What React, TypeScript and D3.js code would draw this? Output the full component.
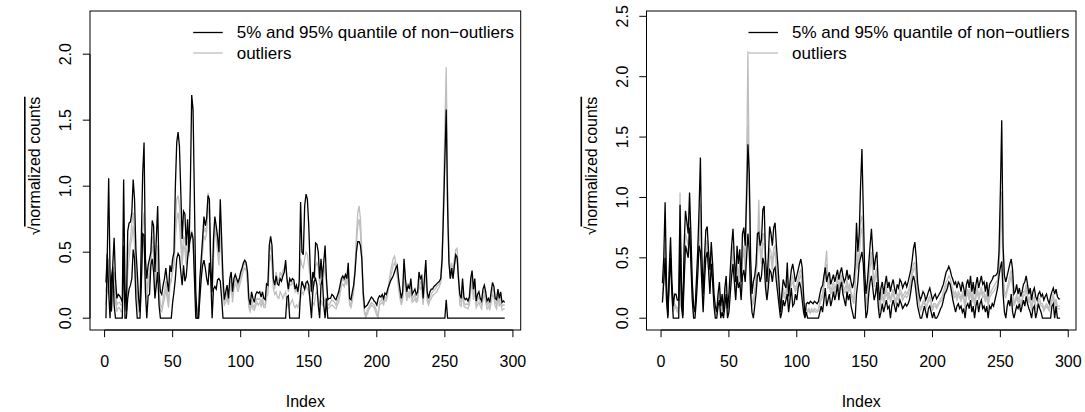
import React from 'react';
import * as d3 from 'd3';

// left panel (values at index 1..294)
const upperLeft = [
  0.27, 0.49, 1.06, 0.35, 0.05, 0.40, 0.61, 0.30, 0.15, 0.18,
  0.17, 0.15, 0.12, 1.05, 0.22, 0.05, 0.66, 0.72, 0.73, 0.80,
  1.05, 0.90, 0.52, 0.35, 0.15, 0.05, 0.60, 1.10, 1.33, 0.45,
  0.30, 0.40, 0.45, 0.50, 0.74, 0.70, 0.35, 0.60, 0.85, 0.35,
  0.20, 0.18, 0.25, 0.30, 0.38, 0.28, 0.20, 0.40, 0.35, 0.45,
  0.50, 1.00, 1.33, 1.41, 1.30, 0.95, 0.60, 0.81, 0.79, 0.55,
  0.75, 0.50, 1.00, 1.69, 1.58, 0.90, 0.20, 0.00, 0.00, 0.30,
  0.45, 0.60, 0.77, 0.70, 0.76, 0.93, 0.90, 0.40, 0.20, 0.60,
  0.77, 0.70, 0.62, 0.50, 0.90, 0.60, 0.30, 0.14, 0.20, 0.25,
  0.15, 0.30, 0.35, 0.20, 0.30, 0.33, 0.30, 0.27, 0.30, 0.35,
  0.38, 0.42, 0.44, 0.42, 0.35, 0.15, 0.10, 0.20, 0.15, 0.12,
  0.18, 0.20, 0.19, 0.20, 0.16, 0.20, 0.15, 0.14, 0.26, 0.25,
  0.55, 0.62, 0.55, 0.30, 0.25, 0.32, 0.26, 0.25, 0.30, 0.28,
  0.32, 0.35, 0.44, 0.30, 0.22, 0.30, 0.28, 0.30, 0.29, 0.22,
  0.25, 0.20, 0.28, 0.88, 0.50, 0.48, 0.85, 0.94, 0.90, 0.70,
  0.40, 0.20, 0.35, 0.30, 0.57, 0.56, 0.50, 0.30, 0.45, 0.30,
  0.42, 0.55, 0.30, 0.14, 0.15, 0.15, 0.18, 0.17, 0.15, 0.14,
  0.17, 0.20, 0.25, 0.30, 0.32, 0.30, 0.33, 0.30, 0.42, 0.15,
  0.14, 0.20, 0.25, 0.35, 0.50, 0.58, 0.58, 0.55, 0.45, 0.20,
  0.08, 0.09, 0.10, 0.12, 0.14, 0.16, 0.15, 0.13, 0.12, 0.10,
  0.15, 0.17, 0.16, 0.18, 0.15, 0.19, 0.18, 0.22, 0.25, 0.28,
  0.30, 0.32, 0.35, 0.38, 0.40, 0.30, 0.22, 0.15, 0.20, 0.45,
  0.30, 0.20, 0.25, 0.22, 0.30, 0.18, 0.20, 0.22, 0.18, 0.20,
  0.35, 0.30, 0.32, 0.15, 0.30, 0.44, 0.20, 0.15, 0.20, 0.22,
  0.22, 0.24, 0.25, 0.26, 0.27, 0.28, 0.30, 0.45, 0.80, 1.20,
  1.58, 0.85, 0.42, 0.30, 0.38, 0.30, 0.40, 0.48, 0.46, 0.30,
  0.18, 0.15, 0.30, 0.16, 0.14, 0.15, 0.13, 0.16, 0.30, 0.36,
  0.22, 0.30, 0.13, 0.18, 0.20, 0.15, 0.13, 0.22, 0.25, 0.20,
  0.13, 0.15, 0.12, 0.20, 0.27, 0.24, 0.15, 0.14, 0.22, 0.15,
  0.20, 0.12, 0.13, 0.12,
];

const lowerLeft = [
  0, 0.49, 0.20, 0, 0.30, 0.39, 0.10, 0, 0, 0,
  0, 0, 0, 0.55, 0, 0, 0.15, 0.22, 0.25, 0.30,
  0.52, 0.45, 0.15, 0, 0, 0, 0.25, 0.64, 0.63, 0.20,
  0, 0.17, 0.18, 0.40, 0.45, 0.35, 0.15, 0.25, 0.35, 0.10,
  0, 0, 0, 0, 0, 0, 0, 0, 0, 0.12,
  0.20, 0.30, 0.45, 0.49, 0.47, 0.35, 0.25, 0.40, 0.28, 0.32,
  0.45, 0.55, 0.60, 0.65, 0.60, 0.30, 0, 0, 0, 0.15,
  0.30, 0.40, 0.44, 0.38, 0.30, 0.25, 0.42, 0.30, 0, 0.22,
  0.24, 0.22, 0.29, 0.30, 0.28, 0.15, 0, 0, 0, 0,
  0, 0, 0, 0, 0, 0, 0, 0, 0, 0,
  0, 0, 0, 0, 0, 0, 0, 0, 0, 0,
  0, 0, 0, 0, 0, 0, 0, 0, 0, 0,
  0, 0, 0, 0, 0, 0, 0, 0, 0, 0,
  0, 0, 0, 0.16, 0.17, 0, 0, 0, 0, 0,
  0, 0, 0, 0.20, 0.28, 0.25, 0.22, 0.27, 0.28, 0.25,
  0.12, 0, 0.20, 0.28, 0.30, 0.25, 0.10, 0, 0.25, 0.30,
  0.10, 0, 0.15, 0, 0, 0, 0, 0, 0, 0,
  0, 0, 0, 0, 0, 0, 0, 0, 0, 0,
  0, 0, 0, 0, 0, 0, 0, 0, 0, 0,
  0, 0, 0, 0, 0, 0, 0, 0, 0, 0,
  0, 0, 0, 0, 0, 0, 0, 0, 0, 0,
  0, 0, 0, 0, 0, 0, 0, 0, 0, 0,
  0, 0, 0, 0, 0, 0, 0, 0, 0, 0,
  0, 0, 0, 0, 0, 0, 0, 0, 0, 0,
  0, 0, 0, 0, 0, 0, 0, 0, 0, 0,
  0.14, 0, 0, 0, 0, 0, 0, 0, 0, 0,
  0, 0, 0, 0, 0, 0, 0, 0, 0, 0,
  0, 0, 0, 0, 0, 0, 0, 0, 0, 0,
  0, 0, 0, 0, 0, 0, 0, 0, 0, 0,
  0, 0, 0, 0,
];

const outlierLeftA = [
  0.20, 0.30, 0.45, 0.20, 0.10, 0.25, 0.35, 0.20, 0.10, 0.12,
  0.12, 0.10, 0.10, 0.45, 0.20, 0.10, 0.45, 0.55, 0.60, 0.72,
  0.80, 0.65, 0.40, 0.20, 0.10, 0.05, 0.40, 0.70, 0.80, 0.35,
  0.20, 0.30, 0.35, 0.45, 0.62, 0.55, 0.25, 0.40, 0.55, 0.22,
  0.10, 0.08, 0.15, 0.20, 0.28, 0.20, 0.12, 0.30, 0.28, 0.40,
  0.45, 0.70, 0.90, 0.93, 0.85, 0.65, 0.45, 0.62, 0.60, 0.45,
  0.58, 0.52, 0.65, 0.66, 0.62, 0.40, 0.15, 0.05, 0.08, 0.25,
  0.40, 0.55, 0.70, 0.65, 0.70, 0.95, 0.85, 0.38, 0.15, 0.50,
  0.75, 0.65, 0.55, 0.45, 0.75, 0.50, 0.25, 0.12, 0.16, 0.20,
  0.12, 0.25, 0.30, 0.16, 0.25, 0.30, 0.27, 0.24, 0.27, 0.32,
  0.35, 0.40, 0.42, 0.40, 0.30, 0.10, 0.07, 0.14, 0.10, 0.08,
  0.12, 0.15, 0.14, 0.15, 0.12, 0.15, 0.10, 0.10, 0.20, 0.22,
  0.50, 0.55, 0.48, 0.28, 0.22, 0.35, 0.30, 0.28, 0.35, 0.32,
  0.36, 0.38, 0.40, 0.28, 0.20, 0.26, 0.25, 0.27, 0.25, 0.20,
  0.22, 0.18, 0.25, 0.45, 0.40, 0.38, 0.45, 0.50, 0.48, 0.40,
  0.30, 0.18, 0.28, 0.25, 0.40, 0.42, 0.38, 0.25, 0.35, 0.26,
  0.32, 0.40, 0.25, 0.10, 0.10, 0.12, 0.14, 0.13, 0.12, 0.10,
  0.13, 0.16, 0.22, 0.28, 0.30, 0.28, 0.31, 0.28, 0.38, 0.12,
  0.10, 0.16, 0.24, 0.40, 0.62, 0.80, 0.85, 0.75, 0.50, 0.18,
  0.05, 0.00, 0.06, 0.08, 0.10, 0.12, 0.11, 0.10, 0.08, 0.05,
  0.00, 0.12, 0.13, 0.15, 0.12, 0.16, 0.15, 0.20, 0.28, 0.35,
  0.40, 0.45, 0.47, 0.42, 0.36, 0.26, 0.18, 0.12, 0.16, 0.40,
  0.25, 0.16, 0.20, 0.18, 0.25, 0.14, 0.16, 0.18, 0.14, 0.16,
  0.30, 0.26, 0.28, 0.12, 0.26, 0.40, 0.16, 0.12, 0.16, 0.18,
  0.20, 0.21, 0.22, 0.24, 0.25, 0.26, 0.30, 0.50, 0.95, 1.45,
  1.90, 1.00, 0.48, 0.35, 0.42, 0.35, 0.45, 0.52, 0.53, 0.35,
  0.14, 0.12, 0.25, 0.12, 0.10, 0.11, 0.10, 0.12, 0.25, 0.32,
  0.18, 0.26, 0.10, 0.14, 0.16, 0.12, 0.10, 0.18, 0.21, 0.16,
  0.10, 0.12, 0.09, 0.16, 0.22, 0.20, 0.12, 0.10, 0.20, 0.12,
  0.16, 0.09, 0.10, 0.10,
];

const outlierLeftB = [
  0.10, 0.20, 0.30, 0.15, 0.05, 0.15, 0.25, 0.12, 0.05, 0.08,
  0.08, 0.05, 0.05, 0.35, 0.10, 0.05, 0.35, 0.45, 0.55, 0.60,
  0.70, 0.55, 0.30, 0.15, 0.05, 0.03, 0.30, 0.55, 0.60, 0.28,
  0.15, 0.25, 0.30, 0.40, 0.55, 0.50, 0.20, 0.32, 0.45, 0.18,
  0.06, 0.05, 0.10, 0.15, 0.22, 0.15, 0.08, 0.25, 0.30, 0.35,
  0.40, 0.60, 0.75, 0.80, 0.70, 0.55, 0.40, 0.55, 0.52, 0.40,
  0.50, 0.48, 0.60, 0.62, 0.58, 0.35, 0.10, 0.03, 0.05, 0.20,
  0.35, 0.50, 0.62, 0.60, 0.65, 0.85, 0.78, 0.32, 0.12, 0.45,
  0.68, 0.60, 0.50, 0.40, 0.65, 0.45, 0.20, 0.10, 0.12, 0.15,
  0.10, 0.20, 0.26, 0.12, 0.22, 0.26, 0.24, 0.20, 0.24, 0.28,
  0.32, 0.36, 0.38, 0.36, 0.26, 0.08, 0.05, 0.10, 0.07, 0.06,
  0.09, 0.12, 0.10, 0.12, 0.09, 0.12, 0.08, 0.08, 0.16, 0.18,
  0.42, 0.48, 0.40, 0.22, 0.18, 0.20, 0.16, 0.15, 0.20, 0.18,
  0.15, 0.18, 0.20, 0.12, 0.08, 0.10, 0.12, 0.14, 0.10, 0.08,
  0.10, 0.08, 0.12, 0.15, 0.20, 0.18, 0.22, 0.25, 0.22, 0.20,
  0.15, 0.08, 0.12, 0.10, 0.18, 0.20, 0.15, 0.10, 0.14, 0.10,
  0.12, 0.15, 0.10, 0.07, 0.08, 0.09, 0.10, 0.09, 0.08, 0.07,
  0.10, 0.12, 0.18, 0.24, 0.26, 0.24, 0.28, 0.25, 0.34, 0.10,
  0.08, 0.13, 0.20, 0.35, 0.55, 0.70, 0.75, 0.65, 0.42, 0.14,
  0.03, 0.04, 0.03, 0.06, 0.08, 0.10, 0.09, 0.08, 0.05, 0.02,
  0.03, 0.10, 0.11, 0.12, 0.10, 0.14, 0.13, 0.18, 0.25, 0.30,
  0.35, 0.40, 0.42, 0.38, 0.32, 0.22, 0.15, 0.10, 0.14, 0.35,
  0.22, 0.13, 0.18, 0.15, 0.22, 0.12, 0.13, 0.15, 0.12, 0.13,
  0.26, 0.22, 0.24, 0.10, 0.22, 0.36, 0.13, 0.10, 0.13, 0.15,
  0.17, 0.18, 0.19, 0.20, 0.22, 0.24, 0.27, 0.42, 0.85, 1.30,
  1.70, 0.90, 0.44, 0.30, 0.36, 0.30, 0.40, 0.46, 0.48, 0.30,
  0.10, 0.09, 0.20, 0.09, 0.08, 0.08, 0.07, 0.10, 0.20, 0.28,
  0.14, 0.22, 0.08, 0.10, 0.12, 0.09, 0.07, 0.14, 0.18, 0.12,
  0.07, 0.09, 0.06, 0.12, 0.18, 0.16, 0.09, 0.07, 0.16, 0.09,
  0.12, 0.06, 0.07, 0.07,
];

// right panel
const upperRight = [
  0.29, 0.50, 0.96, 0.30, 0.02, 0.40, 0.67, 0.30, 0.10, 0.20,
  0.20, 0.15, 0.15, 0.94, 0.30, 0.02, 0.60, 0.89, 0.80, 0.70,
  1.04, 0.70, 0.30, 0.10, 0.05, 0.30, 0.55, 0.90, 1.33, 0.55,
  0.20, 0.50, 0.73, 0.76, 0.55, 0.40, 0.63, 0.45, 0.20, 0.10,
  0.05, 0.20, 0.30, 0.10, 0.20, 0.05, 0.25, 0.35, 0.08, 0.20,
  0.40, 0.60, 0.74, 0.50, 0.30, 0.60, 0.45, 0.57, 0.30, 0.70,
  0.75, 0.60, 1.00, 1.44, 1.20, 0.50, 0.20, 0.30, 0.35, 0.45,
  0.70, 0.71, 0.60, 0.65, 0.90, 0.93, 0.50, 0.30, 0.50, 0.76,
  0.70, 0.60, 0.75, 0.79, 0.60, 0.45, 0.28, 0.05, 0.20, 0.32,
  0.28, 0.25, 0.46, 0.18, 0.30, 0.40, 0.45, 0.38, 0.30, 0.35,
  0.40, 0.45, 0.49, 0.42, 0.20, 0.02, 0.12, 0.13, 0.12, 0.14,
  0.13, 0.12, 0.14, 0.13, 0.12, 0.14, 0.20, 0.25, 0.27, 0.35,
  0.42, 0.30, 0.35, 0.38, 0.28, 0.32, 0.36, 0.30, 0.35, 0.40,
  0.32, 0.38, 0.42, 0.35, 0.30, 0.33, 0.40, 0.32, 0.36, 0.30,
  0.25, 0.30, 0.45, 0.79, 0.55, 0.70, 1.10, 1.40, 0.90, 0.40,
  0.20, 0.30, 0.45, 0.60, 0.74, 0.55, 0.40, 0.50, 0.55, 0.30,
  0.15, 0.25, 0.30, 0.20, 0.28, 0.35, 0.25, 0.30, 0.22, 0.28,
  0.32, 0.25, 0.20, 0.28, 0.25, 0.32, 0.30, 0.25, 0.28, 0.30,
  0.26, 0.30, 0.35, 0.40, 0.48, 0.58, 0.63, 0.50, 0.30, 0.21,
  0.15, 0.18, 0.22, 0.20, 0.15, 0.18, 0.22, 0.25, 0.20, 0.15,
  0.18, 0.20, 0.16, 0.18, 0.20, 0.22, 0.25, 0.28, 0.33, 0.38,
  0.40, 0.43, 0.40, 0.35, 0.32, 0.28, 0.30, 0.25, 0.30, 0.28,
  0.22, 0.30, 0.25, 0.18, 0.28, 0.32, 0.25, 0.35, 0.22, 0.30,
  0.20, 0.28, 0.34, 0.25, 0.30, 0.35, 0.28, 0.30, 0.22, 0.30,
  0.18, 0.28, 0.30, 0.32, 0.35, 0.35, 0.36, 0.38, 0.55, 1.05,
  1.64, 0.60, 0.35, 0.30, 0.35, 0.40, 0.45, 0.49, 0.40, 0.20,
  0.22, 0.28, 0.20, 0.25, 0.18, 0.22, 0.28, 0.30, 0.35, 0.28,
  0.20, 0.25, 0.15, 0.22, 0.25, 0.18, 0.15, 0.20, 0.22, 0.18,
  0.20, 0.15, 0.18, 0.20, 0.15, 0.12, 0.18, 0.22, 0.25, 0.20,
  0.24, 0.18, 0.16, 0.16,
];

const lowerRight = [
  0.13, 0.30, 0.50, 0.15, 0, 0.30, 0.50, 0.20, 0, 0,
  0, 0, 0, 0.65, 0.10, 0, 0.30, 0.60, 0.55, 0.50,
  0.75, 0.45, 0.15, 0, 0, 0.15, 0.35, 0.60, 0.55, 0.30,
  0.05, 0.30, 0.50, 0.55, 0.40, 0.20, 0.45, 0.30, 0.10, 0,
  0, 0.10, 0.15, 0, 0.05, 0, 0.10, 0.20, 0, 0.05,
  0.20, 0.35, 0.45, 0.30, 0.15, 0.35, 0.25, 0.30, 0.15, 0.35,
  0.40, 0.30, 0.50, 0.70, 0.55, 0.20, 0.05, 0, 0.10, 0.20,
  0.35, 0.38, 0.30, 0.35, 0.50, 0.45, 0.25, 0.15, 0.25, 0.40,
  0.38, 0.30, 0.40, 0.42, 0.30, 0.20, 0.10, 0, 0.05, 0.15,
  0.10, 0.15, 0.20, 0.05, 0.15, 0.25, 0.10, 0.12, 0.20, 0.15,
  0.25, 0.30, 0.25, 0.15, 0.05, 0, 0.05, 0, 0, 0,
  0, 0, 0, 0, 0, 0, 0.05, 0.10, 0.05, 0.15,
  0.25, 0.10, 0.15, 0.20, 0.10, 0.15, 0.22, 0.15, 0.20, 0.28,
  0.15, 0.25, 0.30, 0.20, 0.15, 0.10, 0.22, 0.15, 0.20, 0.10,
  0.05, 0, 0, 0.20, 0.30, 0.45, 0.50, 0.55, 0.45, 0.20,
  0, 0.05, 0.20, 0.30, 0.35, 0.25, 0.15, 0.20, 0.30, 0.10,
  0, 0.05, 0.12, 0.05, 0.10, 0.15, 0.08, 0.10, 0, 0.10,
  0.15, 0.10, 0.05, 0.12, 0.10, 0.15, 0.12, 0.08, 0.10, 0.12,
  0.10, 0.12, 0.15, 0.22, 0.30, 0.35, 0.30, 0.20, 0.10, 0.05,
  0, 0, 0.05, 0.10, 0.05, 0, 0.08, 0.10, 0.05, 0,
  0.05, 0, 0, 0.02, 0.05, 0.08, 0.10, 0.15, 0.20, 0.22,
  0.25, 0.30, 0.28, 0.22, 0.15, 0.10, 0.05, 0.10, 0.12, 0.08,
  0.10, 0.05, 0.08, 0, 0.10, 0.12, 0.08, 0.15, 0.05, 0.10,
  0, 0.10, 0.15, 0.05, 0.12, 0.15, 0.08, 0.10, 0.05, 0.10,
  0, 0.10, 0.08, 0.12, 0.10, 0.15, 0.20, 0.25, 0.35, 0.42,
  0.47, 0.20, 0.05, 0, 0.10, 0.15, 0.10, 0.20, 0.05, 0,
  0.05, 0.10, 0.08, 0.12, 0.05, 0.10, 0.15, 0.10, 0.18, 0.12,
  0.08, 0.05, 0, 0.08, 0.10, 0, 0.05, 0.12, 0.08, 0.05,
  0, 0, 0, 0, 0, 0, 0, 0.10, 0.12, 0,
  0.10, 0, 0, 0,
];

const outlierRightA = [
  0.20, 0.35, 0.60, 0.25, 0.05, 0.35, 0.55, 0.25, 0.08, 0.12,
  0.10, 0.08, 0.10, 1.04, 0.25, 0.05, 0.45, 0.70, 0.65, 0.60,
  0.85, 0.55, 0.25, 0.05, 0.05, 0.25, 0.45, 0.70, 0.95, 0.45,
  0.12, 0.40, 0.60, 0.65, 0.48, 0.30, 0.55, 0.38, 0.15, 0.05,
  0.05, 0.15, 0.22, 0.05, 0.12, 0.05, 0.18, 0.28, 0.05, 0.12,
  0.30, 0.50, 0.60, 0.40, 0.22, 0.48, 0.35, 0.45, 0.22, 0.55,
  0.60, 0.45, 1.20, 2.21, 1.10, 0.35, 0.12, 0.15, 0.22, 0.35,
  0.55, 0.98, 0.60, 0.50, 0.70, 0.70, 0.40, 0.22, 0.38, 0.58,
  0.55, 0.45, 0.58, 0.60, 0.45, 0.32, 0.20, 0.05, 0.12, 0.25,
  0.20, 0.20, 0.35, 0.12, 0.22, 0.32, 0.35, 0.28, 0.25, 0.28,
  0.32, 0.38, 0.40, 0.30, 0.12, 0.02, 0.08, 0.06, 0.08, 0.05,
  0.08, 0.06, 0.08, 0.07, 0.06, 0.08, 0.14, 0.18, 0.20, 0.30,
  0.45, 0.56, 0.28, 0.30, 0.22, 0.26, 0.30, 0.24, 0.28, 0.34,
  0.25, 0.32, 0.36, 0.28, 0.24, 0.26, 0.32, 0.25, 0.28, 0.22,
  0.18, 0.15, 0.30, 0.60, 0.45, 0.55, 0.80, 0.85, 0.60, 0.30,
  0.10, 0.20, 0.35, 0.48, 0.55, 0.42, 0.30, 0.38, 0.42, 0.20,
  0.08, 0.18, 0.22, 0.14, 0.20, 0.26, 0.18, 0.22, 0.15, 0.20,
  0.24, 0.18, 0.14, 0.20, 0.18, 0.24, 0.22, 0.18, 0.20, 0.22,
  0.20, 0.22, 0.26, 0.32, 0.40, 0.45, 0.46, 0.38, 0.22, 0.14,
  0.08, 0.10, 0.14, 0.15, 0.10, 0.12, 0.16, 0.18, 0.14, 0.08,
  0.12, 0.12, 0.10, 0.12, 0.14, 0.16, 0.18, 0.22, 0.26, 0.30,
  0.32, 0.35, 0.33, 0.28, 0.24, 0.20, 0.22, 0.18, 0.22, 0.20,
  0.16, 0.22, 0.18, 0.10, 0.20, 0.24, 0.18, 0.26, 0.15, 0.22,
  0.12, 0.20, 0.26, 0.18, 0.22, 0.26, 0.20, 0.22, 0.15, 0.22,
  0.12, 0.20, 0.22, 0.24, 0.26, 0.28, 0.30, 0.32, 0.45, 0.80,
  1.05, 0.40, 0.22, 0.20, 0.25, 0.30, 0.35, 0.40, 0.30, 0.12,
  0.15, 0.20, 0.15, 0.18, 0.12, 0.16, 0.22, 0.22, 0.28, 0.20,
  0.15, 0.18, 0.08, 0.16, 0.18, 0.10, 0.10, 0.16, 0.16, 0.12,
  0.12, 0.08, 0.10, 0.12, 0.10, 0.08, 0.12, 0.16, 0.20, 0.12,
  0.16, 0.10, 0.10, 0.10,
];

const outlierRightB = [
  0.15, 0.30, 0.50, 0.20, 0.03, 0.30, 0.45, 0.20, 0.05, 0.10,
  0.08, 0.05, 0.08, 0.75, 0.20, 0.03, 0.40, 0.60, 0.58, 0.55,
  0.70, 0.50, 0.20, 0.03, 0.03, 0.20, 0.40, 0.62, 0.80, 0.40,
  0.10, 0.35, 0.55, 0.60, 0.45, 0.25, 0.50, 0.34, 0.12, 0.03,
  0.03, 0.12, 0.18, 0.03, 0.10, 0.03, 0.15, 0.24, 0.03, 0.10,
  0.26, 0.45, 0.55, 0.36, 0.18, 0.42, 0.30, 0.40, 0.18, 0.50,
  0.55, 0.40, 0.90, 1.60, 0.95, 0.30, 0.10, 0.12, 0.18, 0.30,
  0.50, 0.80, 0.55, 0.45, 0.62, 0.62, 0.35, 0.18, 0.32, 0.52,
  0.50, 0.40, 0.52, 0.55, 0.40, 0.28, 0.16, 0.03, 0.10, 0.22,
  0.17, 0.18, 0.30, 0.10, 0.20, 0.28, 0.30, 0.25, 0.22, 0.25,
  0.28, 0.33, 0.36, 0.26, 0.10, 0.01, 0.06, 0.05, 0.06, 0.04,
  0.06, 0.05, 0.06, 0.05, 0.05, 0.06, 0.12, 0.15, 0.17, 0.26,
  0.40, 0.45, 0.25, 0.26, 0.20, 0.22, 0.26, 0.21, 0.24, 0.30,
  0.22, 0.28, 0.32, 0.25, 0.21, 0.22, 0.28, 0.22, 0.25, 0.19,
  0.15, 0.12, 0.26, 0.52, 0.40, 0.50, 0.70, 0.75, 0.52, 0.26,
  0.08, 0.17, 0.30, 0.42, 0.50, 0.38, 0.26, 0.34, 0.38, 0.17,
  0.06, 0.15, 0.19, 0.12, 0.17, 0.22, 0.15, 0.19, 0.13, 0.17,
  0.21, 0.15, 0.12, 0.17, 0.15, 0.21, 0.19, 0.15, 0.17, 0.19,
  0.17, 0.19, 0.23, 0.28, 0.35, 0.40, 0.42, 0.34, 0.19, 0.12,
  0.06, 0.08, 0.12, 0.13, 0.08, 0.10, 0.14, 0.15, 0.12, 0.06,
  0.10, 0.10, 0.08, 0.10, 0.12, 0.14, 0.15, 0.19, 0.22, 0.26,
  0.28, 0.30, 0.29, 0.24, 0.21, 0.17, 0.19, 0.15, 0.19, 0.17,
  0.14, 0.19, 0.15, 0.08, 0.17, 0.21, 0.15, 0.22, 0.13, 0.19,
  0.10, 0.17, 0.22, 0.15, 0.19, 0.22, 0.17, 0.19, 0.13, 0.19,
  0.10, 0.17, 0.19, 0.21, 0.22, 0.24, 0.26, 0.28, 0.40, 0.70,
  0.90, 0.35, 0.19, 0.17, 0.22, 0.26, 0.30, 0.35, 0.26, 0.10,
  0.13, 0.17, 0.13, 0.15, 0.10, 0.14, 0.19, 0.19, 0.24, 0.17,
  0.13, 0.15, 0.06, 0.14, 0.15, 0.08, 0.08, 0.14, 0.14, 0.10,
  0.10, 0.06, 0.08, 0.10, 0.08, 0.06, 0.10, 0.14, 0.17, 0.10,
  0.14, 0.08, 0.08, 0.08,
];

const xTicks = [0, 50, 100, 150, 200, 250, 300];
const yTicksLeft = [0, 0.5, 1, 1.5, 2];
const yTicksRight = [0, 0.5, 1, 1.5, 2, 2.5];
const legendLabels = ['5% and 95% quantile of non\u2212outliers', 'outliers'];

const FONT = '"Liberation Sans", Arial, Helvetica, sans-serif';
const GREY = '#bebebe';

type PanelProps = {
  x0: number;
  x1: number;
  yDomain: [number, number];
  yTicks: number[];
  upper: number[];
  lower: number[];
  outliers: number[][];
};

function Panel({ x0, x1, yDomain, yTicks, upper, lower, outliers }: PanelProps) {
  const top = 11;
  const bottom = 330;
  // R pads the x range by 4% on each side of 1..294
  const x = d3.scaleLinear().domain([-10.72, 305.72]).range([x0, x1]);
  const y = d3.scaleLinear().domain(yDomain).range([bottom, top]);
  const line = d3
    .line<number>()
    .x((_, i) => x(i + 1))
    .y((d) => y(d));

  return (
    <g>
      {outliers.map((s, k) => (
        <path key={'o' + k} d={line(s) || ''} fill="none" stroke={GREY} strokeWidth={1.3} />
      ))}
      <path d={line(upper) || ''} fill="none" stroke="#000" strokeWidth={1.3} />
      <path d={line(lower) || ''} fill="none" stroke="#000" strokeWidth={1.3} />

      <rect x={x0} y={top} width={x1 - x0} height={bottom - top} fill="none" stroke="#000" strokeWidth={1} />

      {/* x axis */}
      <line x1={x(0)} x2={x(300)} y1={bottom} y2={bottom} stroke="#000" />
      {xTicks.map((t) => (
        <g key={'x' + t}>
          <line x1={x(t)} x2={x(t)} y1={bottom} y2={bottom + 7.2} stroke="#000" />
          <text x={x(t)} y={361} textAnchor="middle" dominantBaseline="central" fontSize={16}>
            {t}
          </text>
        </g>
      ))}
      <text x={(x0 + x1) / 2} y={401} textAnchor="middle" dominantBaseline="central" fontSize={16}>
        Index
      </text>

      {/* y axis */}
      <line x1={x0} x2={x0} y1={y(0)} y2={y(yTicks[yTicks.length - 1])} stroke="#000" />
      {yTicks.map((t) => (
        <g key={'y' + t}>
          <line x1={x0 - 7.2} x2={x0} y1={y(t)} y2={y(t)} stroke="#000" />
          <text
            transform={`translate(${x0 - 24.5},${y(t)}) rotate(-90)`}
            textAnchor="middle"
            dominantBaseline="central"
            fontSize={16}
          >
            {t.toFixed(1)}
          </text>
        </g>
      ))}
      <text
        transform={`translate(${x0 - 56},166) rotate(-90)`}
        textAnchor="middle"
        dominantBaseline="central"
        fontSize={16}
      >
        {'\u221A'}
        <tspan style={{ textDecoration: 'overline' }}>normalized counts</tspan>
      </text>

      {/* legend */}
      <line x1={x1 - 327.5} x2={x1 - 298} y1={32.5} y2={32.5} stroke="#000" strokeWidth={1.3} />
      <line x1={x1 - 327.5} x2={x1 - 298} y1={53} y2={53} stroke={GREY} strokeWidth={1.3} />
      <text x={x1 - 284} y={32.5} dominantBaseline="central" fontSize={17}>
        {legendLabels[0]}
      </text>
      <text x={x1 - 284} y={53} dominantBaseline="central" fontSize={17}>
        {legendLabels[1]}
      </text>
    </g>
  );
}

export default function App() {
  return (
    <svg
      width={1085}
      height={412}
      style={{ position: 'absolute', left: 0, top: 0, background: '#fff' }}
      fontFamily={FONT}
    >
      <rect width={1085} height={412} fill="#fff" />
      <Panel
        x0={90}
        x1={520.7}
        yDomain={[-0.0895, 2.327]}
        yTicks={yTicksLeft}
        upper={upperLeft}
        lower={lowerLeft}
        outliers={[outlierLeftA, outlierLeftB]}
      />
      <Panel
        x0={646.5}
        x1={1076}
        yDomain={[-0.0978, 2.544]}
        yTicks={yTicksRight}
        upper={upperRight}
        lower={lowerRight}
        outliers={[outlierRightA, outlierRightB]}
      />
    </svg>
  );
}
